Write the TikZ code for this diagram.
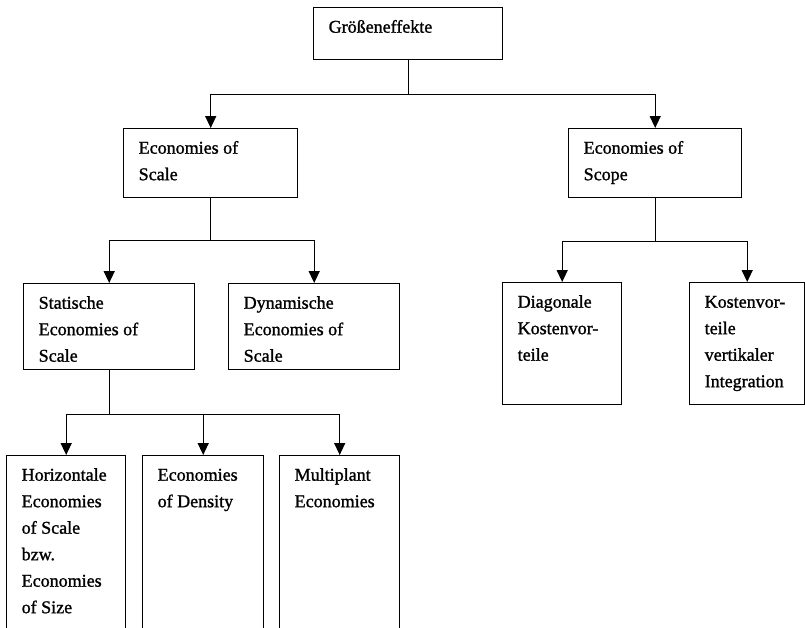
\documentclass[tikz,border=0pt]{standalone}
\usepackage{fontspec}
\setmainfont{Liberation Serif}[FakeBold=1.2]
\usetikzlibrary{arrows.meta}

\tikzset{
  kasten/.style={shape=rectangle, draw=black, line width=1.4pt, anchor=north west,
    inner xsep=15pt, inner ysep=0pt, font=\fontsize{18}{26.5}\selectfont},
  linie/.style={line width=1.4pt},
  pfeil/.style={line width=1.4pt, -{Triangle[length=12pt,width=11pt]}}
}
% text at the top left of a box: width, height, lines
\newcommand{\kastentext}[3]{\parbox[t][#2][t]{#1}{\raggedright\rule{0pt}{25pt}#3}}

\begin{document}
\begin{tikzpicture}[x=1pt, y=-1pt]
        \useasboundingbox (0,0) rectangle (805,627);
        \clip (0,0) rectangle (805,627);

        \node[kasten] (grosse) at (313,7) {\kastentext{159pt}{52pt}{Größeneffekte}};
        \node[kasten] (scale) at (123,128) {\kastentext{144pt}{69pt}{Economies of\\Scale}};
        \node[kasten] (scope) at (568,128) {\kastentext{143pt}{69pt}{Economies of\\Scope}};
        \node[kasten] (statisch) at (23,283) {\kastentext{141pt}{86pt}{Statische\\Economies of\\Scale}};
        \node[kasten] (dynamisch) at (228,283) {\kastentext{141pt}{86pt}{Dynamische\\Economies of\\Scale}};
        \node[kasten] (diagonal) at (502,282) {\kastentext{89pt}{122pt}{Diagonale\\Kostenvor-\\teile}};
        \node[kasten] (vertikal) at (689,282) {\kastentext{85pt}{122pt}{Kostenvor-\\teile\\vertikaler\\Integration}};
        \node[kasten] (horizontal) at (6,455) {\kastentext{89pt}{200pt}{Horizontale\\Economies\\of Scale\\bzw.\\Economies\\of Size}};
        \node[kasten] (dichte) at (142,455) {\kastentext{91pt}{200pt}{Economies\\of Density}};
        \node[kasten] (multiplant) at (279,455) {\kastentext{90pt}{200pt}{Multiplant\\Economies}};

        \draw[linie] (grosse.south) -- ++(0,34) coordinate (k1);
        \draw[pfeil] (k1) -| (scale.north);
        \draw[pfeil] (k1) -| (scope.north);

        \draw[linie] (scale.south) -- ++(0,42) coordinate (k2);
        \draw[pfeil] (k2) -| (statisch.north);
        \draw[pfeil] (k2) -| (dynamisch.north);

        \draw[linie] (scope.south) -- ++(0,43) coordinate (k3);
        \draw[pfeil] (k3) -| (diagonal.north);
        \draw[pfeil] (k3) -| (vertikal.north);

        \draw[linie] (statisch.south) -- ++(0,44) coordinate (k4);
        \draw[pfeil] (k4) -| (horizontal.north);
        \draw[pfeil] (k4) -| (dichte.north);
        \draw[pfeil] (k4) -| (multiplant.north);
\end{tikzpicture}
\end{document}
